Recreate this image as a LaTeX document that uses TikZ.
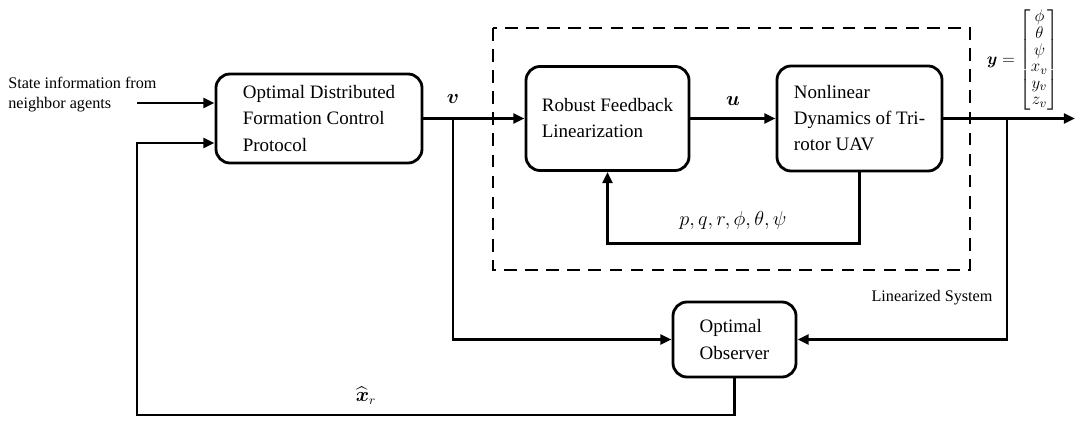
\documentclass[tikz,border=0pt]{standalone}
\usepackage{amsmath}
\usepackage{fontspec}
\setmainfont{Liberation Serif}
\usetikzlibrary{arrows.meta}

\begin{document}
\begin{tikzpicture}[x=0.025cm, y=-0.025cm,
        blk/.style={draw, line width=2pt, rounded corners=10pt, align=left,
            font=\fontsize{13.5}{18.5}\selectfont},
        sig/.style={line width=2pt},
        arr/.style={sig, -{Triangle[length=8pt,width=7pt]}},
        lbl/.style={font=\fontsize{11.5}{14.2}\selectfont, align=left},
        mlbl/.style={font=\fontsize{13.5}{16}\selectfont}]
    \useasboundingbox (0,0) rectangle (1076,425);
    % blocks
    \node(odfc) at(319, 118.5) [blk, minimum width=5.15cm, minimum height=2.225cm] {Optimal Distributed\\Formation Control\\Protocol};
    \node(rfl) at(607.5, 118.5) [blk, minimum width=4.075cm, minimum height=2.6cm] {Robust Feedback\\Linearization};
    \node(nld) at(859.5, 118.5) [blk, minimum width=4.125cm, minimum height=2.625cm] {Nonlinear\\Dynamics of Tri-\\rotor UAV};
    \node(obs) at(734.5, 339.5) [blk, minimum width=3.075cm, minimum height=1.875cm] {Optimal\\Observer};
    % linearized system
    \draw[sig, dash pattern=on 9pt off 6pt] (493,28) rectangle (970,270);
    \node(lin) at(932, 298) [lbl] {Linearized System};
    % inputs
    \node(nbr) at(8, 95) [lbl, anchor=west, inner sep=0pt] {State information from\\neighbor agents};
    \coordinate (in1) at (137,103);
    \coordinate (in2) at (137,143);
    \coordinate (fb) at (137,415);
    \draw[arr] (in1) -- (in1 -| odfc.west);
    % forward path
    \coordinate (vb) at (453,118.5);
    \coordinate (yb) at (1007,118.5);
    \coordinate (yout) at (1075,118.5);
    \draw[arr] (odfc.east) -- (rfl.west);
    \draw[arr] (rfl.east) -- (nld.west);
    \draw[arr] (nld.east) -- (yout);
    \draw[arr] (nld.south) -- ++(0,71) -| (rfl.south);
    % observer
    \draw[arr] (vb) |- (obs.west);
    \draw[arr] (yb) |- (obs.east);
    \draw[arr] (obs.south) |- (fb) -- (in2) -- (in2 -| odfc.west);
    % labels
    \node(vlbl) at(453, 99) [mlbl] {$\boldsymbol{v}$};
    \node(ulbl) at(733, 101) [mlbl] {$\boldsymbol{u}$};
    \node(meas) at(733, 220) [mlbl] {$p,q,r,\phi,\theta,\psi$};
    \node(xhat) at(366, 396) [mlbl] {$\widehat{\boldsymbol{x}}_r$};
    \node(ylbl) at(1023, 60) [inner sep=0pt, font=\fontsize{13}{14}\selectfont]
        {\renewcommand{\arraystretch}{0.84}$\boldsymbol{y}=\begin{bmatrix}\phi\\ \theta\\ \psi\\ x_v\\ y_v\\ z_v\end{bmatrix}$};
\end{tikzpicture}
\end{document}
